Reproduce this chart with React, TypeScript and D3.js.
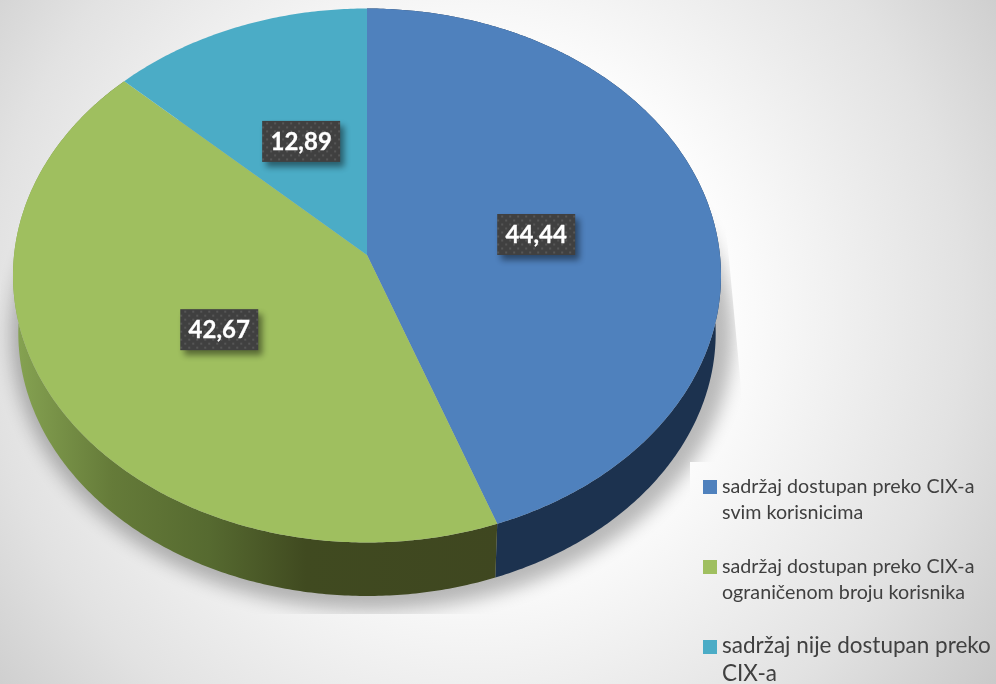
import React from "react";
import * as d3 from "d3";

const categories = ["sadržaj dostupan preko CIX-a svim korisnicima", "sadržaj dostupan preko CIX-a ograničenom broju korisnika", "sadržaj nije dostupan preko CIX-a"];
const values = [44.44, 42.67, 12.89];
const valueLabels = ["44,44", "42,67", "12,89"];
const legendLines = [
  ["sadržaj dostupan preko CIX-a", "svim korisnicima"],
  ["sadržaj dostupan preko CIX-a", "ograničenom broju korisnika"],
  ["sadržaj nije dostupan preko", "CIX-a"],
];
const colors = ["#4f81bd", "#9fbf5f", "#4bacc6"];

const W = 996, H = 684;
const cx = 367, cy = 275.5, rx = 354, ry = 267, tilt = 0.077;
const bottomScale = 0.985, bottomCy = 333;
const FONT = "Lato, Carlito, 'Open Sans', sans-serif";

// Perspective disc mapping: the pie centre projects above the ellipse centre.
function project(theta: number, r = 1): [number, number] {
  const u = r * Math.sin(theta), v = r * Math.cos(theta);
  const den = 1 + tilt * v;
  const vp = (v + tilt) / den;
  const up = (u * Math.sqrt(1 - tilt * tilt)) / den;
  return [cx + rx * up, cy - ry * vp];
}
const lower = ([x, y]: [number, number]): [number, number] => [
  cx + (x - cx) * bottomScale,
  bottomCy + (y - cy) * bottomScale,
];
const line = d3.line<[number, number]>();
const arcs = d3.pie<number>().sort(null)(values);

function rim(a0: number, a1: number): [number, number][] {
  const n = Math.max(4, Math.ceil(Math.abs(a1 - a0) / 0.01));
  return d3.range(n + 1).map((i) => project(a0 + ((a1 - a0) * i) / n));
}
const topPath = (a0: number, a1: number) => line([project(0, 0), ...rim(a0, a1)]) + "Z";
const sidePath = (a0: number, a1: number) => {
  const r = rim(a0, a1);
  return line([...r, ...r.slice().reverse().map(lower)]) + "Z";
};
const wholeBottom = rim(0, 2 * Math.PI).map(lower);
const shadowShape = line(wholeBottom) + "Z";

export default function App() {
  return (
    <svg width={W} height={H} viewBox={`0 0 ${W} ${H}`} style={{ position: "fixed", left: 0, top: 0, display: "block" }}>
      <defs>
        <radialGradient id="bg" gradientUnits="userSpaceOnUse" cx={475} cy={310} r={650}>
          <stop offset="0" stopColor="#ffffff" />
          <stop offset="0.36" stopColor="#ffffff" />
          <stop offset="0.75" stopColor="#e2e2e2" />
          <stop offset="1" stopColor="#c8c8c8" />
        </radialGradient>
        <linearGradient id="sideGreen" gradientUnits="userSpaceOnUse" x1={15} x2={500} y1={0} y2={0}>
          <stop offset="0" stopColor="#86a352" />
          <stop offset="0.2" stopColor="#657b39" />
          <stop offset="0.4" stopColor="#566a30" />
          <stop offset="0.6" stopColor="#404a20" />
          <stop offset="1" stopColor="#3f4720" />
        </linearGradient>
        <filter id="blur" x="-20%" y="-20%" width="140%" height="140%">
          <feGaussianBlur stdDeviation="9" />
        </filter>
        <filter id="lblShadow" x="-30%" y="-30%" width="160%" height="170%">
          <feGaussianBlur stdDeviation="3" />
        </filter>
        <clipPath id="shadowClip">
          <polygon points="10,120 716,120 745,430 745,614 0,614 0,300" />
        </clipPath>
        <pattern id="dots" patternUnits="userSpaceOnUse" width={8} height={8}>
          <rect width={8} height={8} fill="#404040" />
          <rect x={1} y={1} width={2} height={2} fill="#565656" />
          <rect x={5} y={5} width={2} height={2} fill="#565656" />
        </pattern>
      </defs>
      <rect width={W} height={H} fill="url(#bg)" />
      <g clipPath="url(#shadowClip)">
        <path d={shadowShape} fill="#000" stroke="#000" strokeWidth={24} opacity={0.27} filter="url(#blur)" transform="translate(5,2)" />
      </g>
      <rect x={690} y={462} width={306} height={222} fill="url(#bg)" />

      {arcs.map((a, i) =>
        i < 2 ? (
          <path key={"s" + i} d={sidePath(a.startAngle, a.endAngle)} fill={i === 0 ? "#1c324f" : "url(#sideGreen)"} />
        ) : null
      )}
      {arcs.map((a, i) => (
        <path key={"t" + i} d={topPath(a.startAngle, a.endAngle)} fill={colors[i]} />
      ))}

      {arcs.map((a, i) => {
        const [x, y] = project((a.startAngle + a.endAngle) / 2, 0.49);
        const bw = 78, bh = 41;
        return (
          <g key={"l" + i} transform={`translate(${x},${y + 2})`}>
            <rect x={-bw / 2 + 4} y={-bh / 2 + 5} width={bw} height={bh} fill="#000" opacity={0.45} filter="url(#lblShadow)" />
            <rect x={-bw / 2} y={-bh / 2} width={bw} height={bh} fill="url(#dots)" />
            <text textAnchor="middle" y={8.5} fontFamily={FONT} fontWeight={700} fontSize={24} stroke="#fff" strokeWidth={0.3} fill="#fff">
              {valueLabels[i]}
            </text>
          </g>
        );
      })}

      {legendLines.map((lines, i) => {
        const y0 = [493, 573, 653][i];
        return (
          <g key={"k" + i} aria-label={categories[i]}>
            <rect x={703} y={y0 - 13} width={14} height={14} fill={colors[i]} />
            {lines.map((t, j) => (
              <text key={j} x={722} y={y0 + j * (i === 2 ? 27.5 : 25.5)} fontFamily={FONT} fontSize={i === 2 ? 22.5 : 19.7} fill="#404040">
                {t}
              </text>
            ))}
          </g>
        );
      })}
    </svg>
  );
}
